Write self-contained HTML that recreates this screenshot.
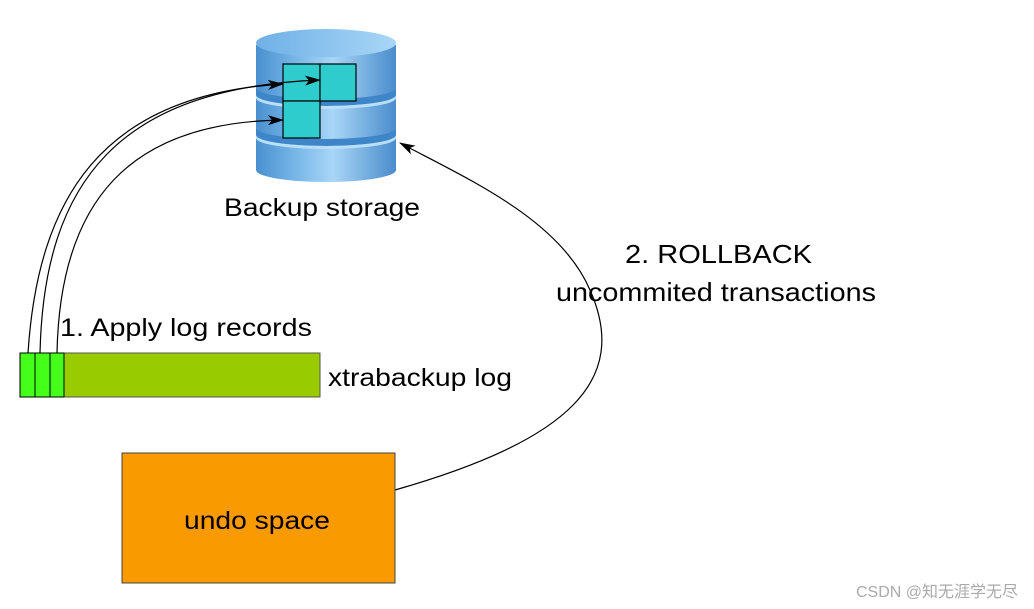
<!DOCTYPE html>
<html><head><meta charset="utf-8"><style>
html,body{margin:0;padding:0;background:#fff;}
svg{display:block;}
text{font-family:"Liberation Sans",sans-serif;fill:#000;}
</style></head><body>
<svg width="1034" height="609" viewBox="0 0 1034 609">
<defs>
<linearGradient id="cyl" x1="0" x2="1" y1="0" y2="0">
<stop offset="0" stop-color="#4a90d0"/><stop offset="0.3" stop-color="#7ab8e8"/><stop offset="0.55" stop-color="#a9d6f6"/><stop offset="1" stop-color="#4a8ccc"/>
</linearGradient>
<linearGradient id="top" x1="0" x2="1"><stop offset="0" stop-color="#6fb0e6"/><stop offset="1" stop-color="#a8d6f6"/></linearGradient>
<marker id="ar" markerWidth="16" markerHeight="10" refX="15" refY="5" orient="auto" markerUnits="userSpaceOnUse">
<path d="M0,0 L16,5 L0,10 L4,5 Z" fill="#000"/></marker>
</defs>
<path d="M256,45 L256,170 A70,12 0 0 0 396,170 L396,45 Z" fill="url(#cyl)"/>
<path d="M256,88 A70,11 0 0 0 396,88 L396,95 A70,11 0 0 1 256,95 Z" fill="#3f86c8"/>
<path d="M256,128 A70,11 0 0 0 396,128 L396,135 A70,11 0 0 1 256,135 Z" fill="#3f86c8"/>
<path d="M256,95 A70,11 0 0 0 396,95 L396,98 A70,11 0 0 1 256,98 Z" fill="#b9e0f8"/>
<path d="M256,135 A70,11 0 0 0 396,135 L396,138 A70,11 0 0 1 256,138 Z" fill="#b9e0f8"/>
<ellipse cx="326" cy="43" rx="70" ry="14" fill="url(#top)"/>
<rect x="283" y="64" width="37" height="37" fill="#2ecccc" stroke="#000" stroke-width="1.2"/>
<rect x="320" y="64" width="36" height="37" fill="#2ecccc" stroke="#000" stroke-width="1.2"/>
<rect x="283" y="101" width="37" height="37" fill="#2ecccc" stroke="#000" stroke-width="1.2"/>
<text x="224" y="216" font-size="25" textLength="196" lengthAdjust="spacingAndGlyphs">Backup storage</text>
<rect x="20" y="353" width="300" height="44" fill="#99cc00" stroke="#555" stroke-width="1"/>
<rect x="20" y="353" width="15" height="44" fill="#44ff1a" stroke="#000" stroke-width="1"/>
<rect x="35" y="353" width="15" height="44" fill="#44ff1a" stroke="#000" stroke-width="1"/>
<rect x="50" y="353" width="14" height="44" fill="#44ff1a" stroke="#000" stroke-width="1"/>
<text x="60" y="336" font-size="25" textLength="252" lengthAdjust="spacingAndGlyphs">1. Apply log records</text>
<text x="328" y="386" font-size="25" textLength="184" lengthAdjust="spacingAndGlyphs">xtrabackup log</text>
<g fill="none" stroke="#000" stroke-width="1.2">
<path d="M28,353 C38,200 100,95 283,84" marker-end="url(#ar)"/>
<path d="M40,353 C44,180 120,88 320,80" marker-end="url(#ar)"/>
<path d="M57,353 C60,200 130,122 283,120" marker-end="url(#ar)"/>
<path d="M395,490 C570,440 630,380 590,290 C560,220 470,180 400,143" marker-end="url(#ar)"/>
</g>
<rect x="122" y="453" width="273" height="130" fill="#f99a00" stroke="#444" stroke-width="1"/>
<text x="184" y="529" font-size="25" textLength="146" lengthAdjust="spacingAndGlyphs">undo space</text>
<text x="625" y="263" font-size="26" textLength="187" lengthAdjust="spacingAndGlyphs">2. ROLLBACK</text>
<text x="556" y="301" font-size="26" textLength="320" lengthAdjust="spacingAndGlyphs">uncommited transactions</text>
<text x="1018" y="597" font-size="16" text-anchor="end" style="font-family:'Liberation Sans','Noto Sans CJK SC',sans-serif;fill:#aaa">CSDN @知无涯学无尽</text>
</svg>
</body></html>
